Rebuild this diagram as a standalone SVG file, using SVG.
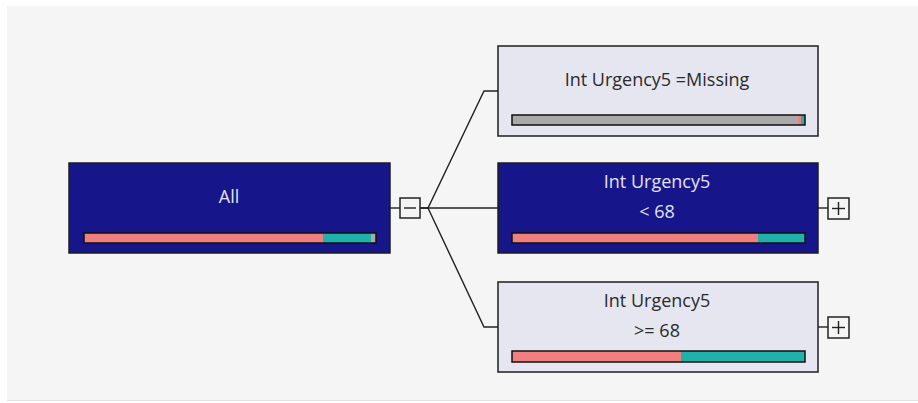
<svg xmlns="http://www.w3.org/2000/svg" width="918" height="403" viewBox="0 0 918 403">
<style>
.node-dark{fill:#16168a;stroke:#1e1e1e;stroke-width:1.5}
.node-light{fill:#e6e6f0;stroke:#1e1e1e;stroke-width:1.5}
.bar{fill:none;stroke:#111;stroke-width:1.5}
.t{font-family:"Open Sans","DejaVu Sans",sans-serif;font-size:18px;text-anchor:middle}
.tdark{fill:#e2e2f2}
.tlight{fill:#2a2a2a}
.conn{fill:none;stroke:#222;stroke-width:1.4}
.btn{fill:none;stroke:#222;stroke-width:1.5}
.pink{fill:#f08080}.teal{fill:#20b2aa}.gray{fill:#a9a9a9}
</style>
<rect x="0" y="0" width="918" height="403" fill="#ffffff"/>
<rect x="7" y="6" width="911" height="394" fill="#f5f5f5"/>
<line x1="7" y1="400.5" x2="918" y2="400.5" stroke="#e2e2e2" stroke-width="1"/>
<g id="connectors">
<line class="conn" x1="390" y1="208" x2="400" y2="208"/>
<polyline class="conn" points="420,208 428,208 484,91 498,91"/>
<line class="conn" x1="420" y1="208" x2="498" y2="208"/>
<polyline class="conn" points="428,208 484,327 498,327"/>
<line class="conn" x1="818" y1="208" x2="828" y2="208"/>
<line class="conn" x1="818" y1="327" x2="828" y2="327"/>
</g>
<g id="node-all">
<rect class="node-dark" x="69" y="163" width="321" height="90"/>
<text class="t tdark" x="229" y="203">All</text>
<rect class="pink" x="84" y="233" width="239" height="10"/>
<rect class="teal" x="323" y="233" width="48" height="10"/>
<rect class="gray" x="371" y="233" width="5" height="10"/>
<rect class="bar" x="84" y="233" width="292" height="10"/>
<g id="collapse-all">
<rect class="btn" x="400" y="198" width="20" height="20"/>
<line class="conn" x1="404" y1="208" x2="416" y2="208"/>
</g>
</g>
<g id="node-missing">
<rect class="node-light" x="498" y="46" width="320" height="90"/>
<text class="t tlight" x="657" y="86">Int Urgency5 =Missing</text>
<rect class="gray" x="512" y="115" width="286" height="10"/>
<rect class="pink" x="798" y="115" width="3" height="10"/>
<rect class="teal" x="801" y="115" width="4" height="10"/>
<rect class="bar" x="512" y="115" width="293" height="10"/>
</g>
<g id="node-lt68">
<rect class="node-dark" x="498" y="163" width="320" height="90"/>
<text class="t tdark" x="657" y="188">Int Urgency5</text>
<text class="t tdark" x="657" y="218">&lt; 68</text>
<rect class="pink" x="512" y="233" width="246" height="10"/>
<rect class="teal" x="758" y="233" width="47" height="10"/>
<rect class="bar" x="512" y="233" width="293" height="10"/>
<g id="expand-lt68">
<rect class="btn" x="828" y="198" width="21" height="21"/>
<line class="conn" x1="832" y1="208.5" x2="845" y2="208.5"/>
<line class="conn" x1="838.5" y1="202" x2="838.5" y2="215"/>
</g>
</g>
<g id="node-ge68">
<rect class="node-light" x="498" y="282" width="320" height="90"/>
<text class="t tlight" x="657" y="307">Int Urgency5</text>
<text class="t tlight" x="657" y="337">&gt;= 68</text>
<rect class="pink" x="512" y="351" width="169" height="11"/>
<rect class="teal" x="681" y="351" width="124" height="11"/>
<rect class="bar" x="512" y="351" width="293" height="11"/>
<g id="expand-ge68">
<rect class="btn" x="828" y="317" width="21" height="21"/>
<line class="conn" x1="832" y1="327.5" x2="845" y2="327.5"/>
<line class="conn" x1="838.5" y1="321" x2="838.5" y2="334"/>
</g>
</g>
</svg>
